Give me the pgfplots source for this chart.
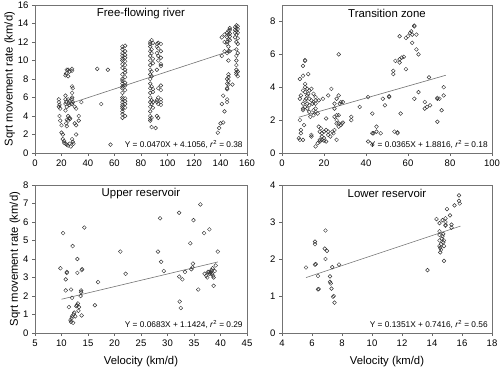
\documentclass[border=0pt]{standalone}
\usepackage{pgfplots}
\pgfplotsset{compat=1.18}
\usepackage{fontspec}
\setmainfont{Liberation Sans}
\pgfplotsset{
  panel/.style={
    scale only axis, height=148pt,
    axis line style={black!55},
    tick align=outside, tick pos=left,
    major tick length=3pt,
    tick style={black!60, line width=0.5pt},
    /pgf/number format/assume math mode=true,
    ticklabel style={font=\fontsize{9.5}{11}\selectfont},
    label style={font=\fontsize{11.3}{13}\selectfont},
    xlabel style={yshift=-3pt},
    ylabel style={yshift=-4pt},
    clip=false,
  },
  pts/.style={only marks, mark=o, mark size=1.9pt, mark options={black!80, line width=0.45pt}},
  fit/.style={no marks, black!55, line width=0.6pt},
}
\newcommand{\ttl}[1]{\node[font=\fontsize{11.4}{13}\selectfont] at (rel axis cs:0.5,0.94) {#1};}
\newcommand{\eqn}[1]{\node[font=\fontsize{8.3}{10}\selectfont, anchor=south east, inner sep=1pt] at (rel axis cs:0.985,0.025) {#1};}
\begin{document}
\begin{tikzpicture}
\useasboundingbox (0,0) rectangle (500pt,-367pt);
% Panel 1
\begin{axis}[panel, width=212pt, at={(35pt,-5pt)}, anchor=north west,
  xmin=0, xmax=160, ymin=0, ymax=16, xtick={0,20,...,160}, ytick={0,2,...,16},
  ylabel={Sqrt movement rate (km/d)}]
\addplot[pts] coordinates {
(18,5.8)(18,5.5)(18.5,5.2)(18,5.0)(19,4.8)(18.5,4.0)(19,3.5)
(20,2.2)(21,2.0)(21,1.5)(22,1.3)(22,1.1)(20,3.0)
(23,8.4)(23.5,8.6)(24,9.0)(23,6.2)(23,5.8)(23.5,5.5)(23,5.3)(24,5.0)(23,4.6)(24,3.6)(23.5,3.2)(24,2.9)(23,1.0)(24,0.9)
(25,9.0)(26,8.8)(25,8.3)(25,5.8)(26,5.6)(25.5,5.4)(26,5.2)(25,4.0)(26,3.8)(26.5,3.7)(25,3.5)(25,0.8)(26,1.0)(27,0.7)
(28,9.1)(28,8.9)(28,7.2)(28.5,7.0)(28,6.5)(28,6.0)(28,5.8)(28.5,5.5)(28,5.3)(28,1.5)(28.5,1.2)(29,1.0)
(30,5.0)(31,4.8)(30,3.2)(31,3.0)(31,2.0)(33,4.0)(33,3.5)(35,5.5)
(47,9.1)(50,5.3)(55,9.0)(57,0.9)
(66,11.5)(66,11.2)(66,10.8)(66,10.5)(66,10.2)(66,10.0)(66,9.6)(66,9.2)(66,8.5)(66,8.0)(66,7.8)(66,7.5)(66,7.2)(66,7.0)(66,6.5)(66,6.0)(66,5.8)(66,5.5)(66,5.2)(66,5.0)(66,4.8)(66,4.5)(66,4.2)(66,3.8)
(68,11.6)(68,11.0)(68,10.6)(68,10.3)(68,9.9)(68,9.5)(68,9.0)(68,8.7)(68,8.2)(68,7.6)(68,7.3)(68,6.8)(68,5.9)(68,5.6)(68,5.3)(68,4.9)(68,4.0)
(87,12.0)(87,11.8)(87,11.5)(87,11.0)(87,10.5)(87,10.0)(87,9.5)(87,9.0)(87,8.5)(87,8.0)(87,7.5)(87,7.0)(87,6.5)(87,6.0)(87,5.5)(87,5.0)(87,4.5)(87,4.0)(87,3.7)(87,3.5)
(88,2.8)(88,12.2)(88,11.2)(88,10.8)(88,8.8)(88,8.3)(88,7.2)(88,5.7)(88,5.3)(88,3.8)
(89,11.9)(89,10.2)(89,9.7)(89,6.9)(89,6.6)(89,5.5)(89,4.9)(91,2.7)
(92,11.8)(92,11.5)(92,10.8)(92,9.0)(92,5.7)(92,5.5)(92,4.0)
(93,11.9)(93,11.3)(93,10.5)(93,10.0)(93,7.0)(93,6.0)(93,5.3)(93,3.8)
(95,11.8)(95,11.0)(95,10.3)(95,9.6)(95,9.4)(95,7.3)(95,6.8)(95,5.8)(95,5.5)(95,5.2)
(138,2.2)(139,2.7)(140,3.2)(141,5.3)(141,12.5)(141,10.5)(142,6.2)(142,3.3)(143,4.5)(143,12.8)(143,12.0)(143,11.0)
(145,13.0)(145,12.5)(145,12.0)(145,11.8)(145,10.8)(145,8.0)(145,7.5)(145,7.0)(145,6.9)(145,5.8)(145,5.5)
(146,13.2)(146,12.8)(146,12.3)(146,11.5)(146,11.0)(146,10.0)(146,8.5)(146,8.2)(146,7.8)(146,7.4)
(147,13.5)(147,13.3)(147,12.9)(147,12.6)(147,12.2)(147,11.0)(149,7.4)
(151,13.6)(151,13.3)(151,13.0)(151,12.5)
(152,13.8)(152,13.5)(152,13.2)(152,12.8)(152,12.0)(152,11.2)(152,10.5)(152,10.0)(152,9.5)(152,9.0)(152,8.7)(152,8.5)
(153,13.7)(153,13.4)(153,13.0)(153,12.4)(153,11.8)(153,10.8)(153,8.8)(153,8.3)
};
\addplot[fit] coordinates {(28,5.4216) (152,11.2496)};
\ttl{Free-flowing river}
\eqn{Y = 0.0470X + 4.1056, \textit{r}\textsuperscript{2} = 0.38}
\end{axis}
% Panel 2
\begin{axis}[panel, width=210pt, at={(282pt,-5pt)}, anchor=north west,
  xmin=0, xmax=100, ymin=0, ymax=9, xtick={0,20,...,100}, ytick={0,2,...,8}]
\addplot[pts] coordinates {
(8,0.9)(8.5,0.8)(8.5,2.0)(8.5,3.3)(9,3.5)(8.5,4.5)(9,1.2)(9,1.4)
(10,3.8)(10,3.0)(10,2.7)(10,2.6)(10,0.8)(10.5,1.7)(10,4.7)(10,5.3)
(11,5.6)(11,5.65)(11,4.2)(11,4.0)(11,3.7)(11,3.2)(11.5,3.3)(11,2.8)
(12,3.9)(12,3.5)(12,3.0)(12,2.7)(12.5,3.6)(12.5,4.8)
(13,3.8)(13,3.3)(13,2.9)(13,2.5)(13.5,2.2)
(14,3.9)(14,3.2)(14,1.1)(14,1.0)(14.5,3.0)
(15,3.6)(15,3.1)(15,2.6)(15,2.3)
(16,3.4)(16,3.2)(16,3.0)(16,2.7)(16,2.5)(16,0.4)
(17,2.4)(17,0.6)(17.5,1.6)(17.5,3.2)
(18,1.3)(18,0.7)(18,0.8)(18.5,1.5)
(19,0.8)(19,1.2)(19,1.0)(19.5,3.3)
(20,0.75)(20,1.3)(20,0.9)
(21,2.1)(21,1.4)(21,0.7)
(22,1.3)(22,1.1)(22,3.5)
(23,1.0)(23.5,3.9)(24,1.3)(24.5,1.2)
(25,3.0)(25,2.7)(25,2.2)(25,1.4)
(26,2.3)(26,2.0)(26,1.8)(26,3.3)(26,0.8)
(27,6.0)(27,2.3)(27,1.8)(27,1.6)(27,3.5)(27.5,3.0)
(28,3.1)(28,1.7)(28.5,1.8)(29,1.85)(29,3.1)
(33,2.2)(33,2.0)(37,2.8)(41,3.4)(41,0.7)
(43,2.4)(43,1.2)(43.5,1.2)(43,0.5)(45,1.6)(45,1.3)(47,1.2)(48,3.3)(49,2.9)
(51,3.45)(51,3.4)(53,5.0)(53,4.8)(53.5,1.3)(54,5.6)(55,1.25)(55,1.2)
(56,7.1)(56,5.7)(56,5.5)(56.5,2.4)(57,5.8)(58,5.85)(59,7.0)(59,5.1)(60,7.1)
(61,7.3)(61.5,7.4)(62,7.2)(62,6.7)(63,7.7)(63,7.75)(63,3.3)(64,7.2)(64,6.3)(65,6.0)(65,3.7)
(68,3.1)(68,2.7)(69,2.8)(70,4.6)(70.5,2.9)(74,3.3)(74,3.35)(74,1.9)(75,3.3)(76,2.6)(77,3.5)(77,4.0)
};
\addplot[fit] coordinates {(8,2.1736) (78,4.7286)};
\ttl{Transition zone}
\eqn{Y = 0.0365X + 1.8816, \textit{r}\textsuperscript{2} = 0.18}
\end{axis}
% Panel 3
\begin{axis}[panel, width=212pt, at={(35pt,-185pt)}, anchor=north west,
  xmin=5, xmax=45, ymin=0, ymax=8, xtick={5,10,...,45}, ytick={0,1,...,8},
  xlabel={Velocity (km/d)}, ylabel={Sqrt movement rate (km/d)}]
\addplot[pts] coordinates {
(9.8,3.5)(10.3,5.4)(10.8,2.3)(10.8,2.9)(11.0,3.3)(11.0,3.25)(11.4,1.4)(11.7,0.7)(11.8,0.6)(11.8,2.35)
(11.9,0.8)(12.0,0.9)(12.0,1.9)(12.1,4.7)(12.2,0.55)(12.3,1.0)(12.4,1.1)(12.6,0.9)(12.8,1.45)(12.9,1.5)
(13.0,3.25)(13.0,4.0)(13.1,1.6)(13.2,1.2)(13.3,1.4)(13.6,2.0)(13.7,2.2)(13.7,2.3)(13.8,3.4)(13.9,3.45)
(13.8,0.95)(14.3,5.7)(16.3,1.5)(16.9,2.75)(21.1,4.4)(22.1,3.2)(28.2,4.4)(28.6,6.2)(28.8,3.85)(29.3,3.35)
(32.2,3.05)(32.2,6.5)(32.3,1.7)(32.5,1.35)(32.8,2.9)(33.3,3.3)(34.3,4.85)(34.5,3.45)(34.7,3.55)(34.8,3.75)
(34.9,6.1)(35.8,2.35)(36.2,6.95)(36.9,5.4)(37.0,3.2)(37.3,3.1)(37.5,3.0)(37.6,3.3)(37.9,5.6)(38.0,3.2)
(38.2,3.3)(38.3,3.4)(38.5,3.5)(38.4,3.2)(38.6,3.1)(38.7,3.0)(38.7,2.55)(38.9,3.35)(39.1,3.65)(39.5,4.4)
(38.1,3.25)(37.8,3.3)
};
\addplot[fit] coordinates {(10,1.8254) (39.5,3.8403)};
\ttl{Upper reservoir}
\eqn{Y = 0.0683X + 1.1424, \textit{r}\textsuperscript{2} = 0.29}
\end{axis}
% Panel 4
\begin{axis}[panel, width=210pt, at={(282pt,-185pt)}, anchor=north west,
  xmin=4, xmax=18, ymin=0, ymax=4, xtick={4,6,...,18}, ytick={0,1,...,4},
  xlabel={Velocity (km/d)}]
\addplot[pts] coordinates {
(5.6,1.77)(6.2,2.4)(6.2,2.47)(6.2,1.85)(6.25,1.86)(6.4,1.54)(6.4,1.18)(6.45,1.19)(6.9,2.77)(6.85,2.28)
(6.9,2.0)(7.0,2.22)(7.2,1.53)(7.2,1.38)(7.25,1.34)(7.3,1.2)(7.35,1.78)(7.4,0.98)(7.45,1.0)(7.5,0.82)
(7.8,1.85)(13.7,1.7)(14.3,3.08)(14.5,2.97)(14.5,2.75)(14.5,2.65)(14.5,2.5)(14.5,2.35)(14.55,2.3)(14.55,2.18)
(14.6,2.25)(14.6,2.4)(14.65,2.55)(14.7,2.62)(14.75,2.68)(14.75,2.45)(14.8,2.5)(14.8,2.35)(14.8,1.95)(14.7,3.05)
(14.9,2.9)(14.9,3.0)(14.9,3.1)(14.9,2.92)(15.0,3.35)(15.2,3.18)(15.3,2.93)(15.3,2.85)(15.5,3.45)(15.8,3.72)
(15.8,3.57)(15.85,3.5)
};
\addplot[fit] coordinates {(5.6,1.4982) (15.9,2.8897)};
\ttl{Lower reservoir}
\eqn{Y = 0.1351X + 0.7416, \textit{r}\textsuperscript{2} = 0.56}
\end{axis}
\end{tikzpicture}
\end{document}
